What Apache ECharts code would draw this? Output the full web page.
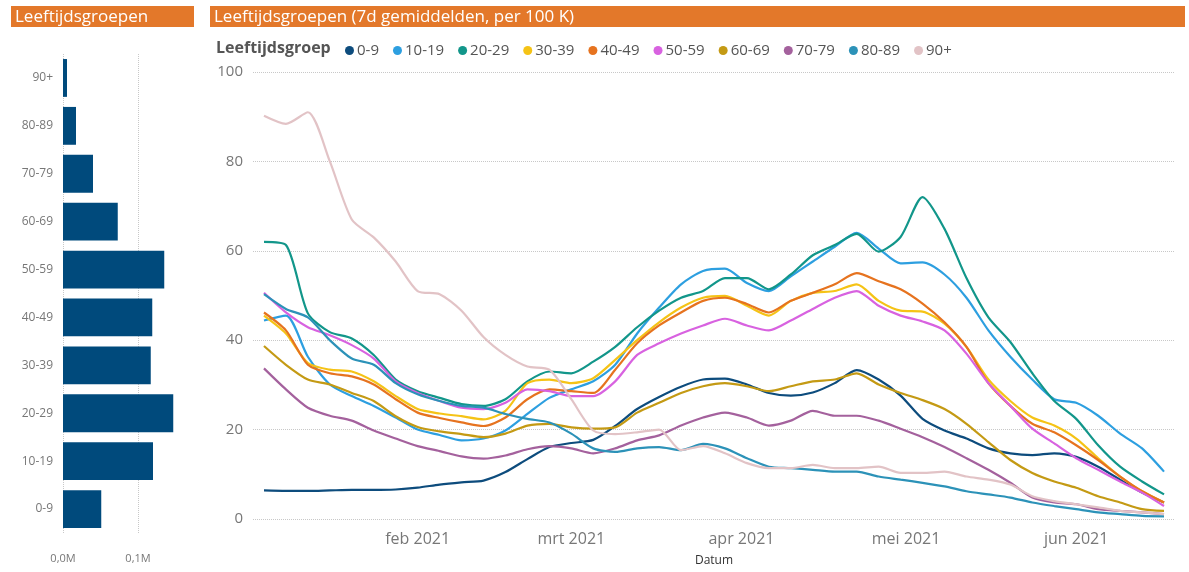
<!DOCTYPE html>
<html>
<head>
<meta charset="utf-8">
<script src="https://cdn.jsdelivr.net/npm/echarts@6/dist/echarts.min.js"></script>
<style>
html,body{margin:0;padding:0;background:#fff;}
#c{width:1189px;height:572px;}
</style>
</head>
<body>
<div id="c"></div>
<script>
// ---- data ----
var groups = ['0-9','10-19','20-29','30-39','40-49','50-59','60-69','70-79','80-89','90+'];
var population = [51000, 120000, 147000, 117000, 119000, 135000, 73000, 40000, 17300, 5300];
var barTicks = [0, 100000];

// sample dates: every 4 days from 2021-01-04 to 2021-06-17
var sampleDates = ['2021-01-04','2021-01-08','2021-01-12','2021-01-16','2021-01-20','2021-01-24','2021-01-28',
'2021-02-01','2021-02-05','2021-02-09','2021-02-13','2021-02-17','2021-02-21','2021-02-25',
'2021-03-01','2021-03-05','2021-03-09','2021-03-13','2021-03-17','2021-03-21','2021-03-25','2021-03-29',
'2021-04-02','2021-04-06','2021-04-10','2021-04-14','2021-04-18','2021-04-22','2021-04-26','2021-04-30',
'2021-05-04','2021-05-08','2021-05-12','2021-05-16','2021-05-20','2021-05-24','2021-05-28',
'2021-06-01','2021-06-05','2021-06-09','2021-06-13','2021-06-17'];

var v0_9   = [6.4,6.3,6.3,6.4,6.5,6.5,6.6,7.0,7.7,8.2,8.6,10.5,13.4,16.1,17.0,17.7,20.8,24.6,27.3,29.6,31.2,31.4,30.1,28.2,27.6,28.3,30.4,33.3,31.2,27.6,22.4,19.8,18.0,15.8,14.7,14.3,14.7,13.9,11.7,8.8,5.9,3.7];
var v10_19 = [44.4,45.5,36.3,30.1,27.5,25.3,22.7,20.0,18.8,17.6,18.0,19.8,23.5,27.1,29.0,30.8,34.5,41.5,47.3,52.5,55.5,56.0,52.8,51.0,54.3,57.6,60.9,64.0,60.5,57.2,57.4,54.7,49.5,42.2,36.3,31.2,26.8,26.0,23.1,19.1,15.8,10.6];
var v20_29 = [62.0,61.3,46.0,41.8,40.4,36.7,31.2,28.6,27.1,25.7,25.3,26.8,30.8,33.0,32.6,35.2,38.5,42.9,46.6,49.5,51.0,53.9,53.9,51.4,54.7,59.0,61.3,63.8,59.8,63.1,72.0,64.9,53.9,45.1,39.6,32.6,26.4,22.4,16.5,11.7,8.4,5.5];
var v30_39 = [45.5,41.5,34.9,33.4,33.0,30.8,27.5,24.6,23.6,23.0,22.3,24.2,30.4,31.2,30.4,31.5,35.6,40.0,44.0,47.3,49.5,49.9,47.7,45.5,48.8,50.6,51.0,52.5,48.8,46.6,46.4,43.7,38.5,31.2,26.4,22.7,20.9,18.0,13.6,9.5,6.2,3.7];
var v40_49 = [46.2,42.2,34.5,32.6,31.9,30.1,26.8,23.8,22.6,21.6,20.8,22.7,26.8,29.0,28.6,28.2,33.4,39.3,43.3,46.2,48.8,49.5,48.1,46.2,48.8,50.6,52.5,55.0,53.2,51.4,48.2,44.0,38.5,30.4,25.3,21.3,19.4,16.5,13.2,9.5,6.2,3.7];
var v50_59 = [50.6,46.2,42.9,41.1,38.9,35.9,30.8,28.2,26.4,24.9,24.6,26.0,29.0,28.6,27.5,27.5,30.8,36.7,39.3,41.5,43.3,44.8,43.3,42.2,44.4,47.0,49.5,51.0,47.7,45.5,44.2,42.2,37.0,30.4,25.3,20.2,16.9,13.6,11.0,8.4,5.9,2.9];
var v60_69 = [38.7,34.5,31.2,30.1,28.2,26.4,23.0,20.6,19.6,19.0,18.3,19.1,20.9,21.3,20.5,20.2,20.5,23.8,26.0,28.2,29.7,30.4,29.7,28.6,29.7,30.8,31.2,32.6,30.1,28.2,26.6,24.6,21.3,17.2,13.2,10.3,8.4,7.0,5.1,3.7,2.2,1.8];
var v70_79 = [33.7,29.0,24.9,23.1,22.0,19.8,18.0,16.3,15.2,14.0,13.5,14.2,15.6,16.3,15.8,14.7,15.8,17.6,18.7,20.9,22.7,23.8,22.7,20.9,22.0,24.2,23.1,23.1,22.0,20.2,18.3,16.1,13.6,11.0,8.1,4.8,3.7,3.3,2.2,1.8,1.5,1.1];
var v80_89 = [50.3,47.0,45.1,40.0,35.9,34.5,30.4,27.9,26.4,25.3,24.9,23.5,22.4,21.6,19.1,15.8,15.0,15.8,16.1,15.4,16.8,15.8,13.6,11.7,11.4,11.0,10.6,10.6,9.5,8.8,8.1,7.3,6.2,5.5,4.8,3.7,2.9,2.2,1.5,1.1,0.7,0.6];
var v90p   = [90.2,88.4,91.0,80.0,67.0,63.0,57.6,51.0,50.3,46.6,40.7,36.7,34.1,33.4,26.8,19.8,19.0,19.4,20.0,15.4,16.3,14.7,12.5,11.4,11.4,12.1,11.4,11.4,11.7,10.3,10.3,10.6,9.5,8.8,7.7,5.1,4.0,3.3,2.6,1.8,1.5,1.1];

var seriesValues = [v0_9, v10_19, v20_29, v30_39, v40_49, v50_59, v60_69, v70_79, v80_89, v90p];
var colors = ['#0D4C7D','#2D9FE0','#12968A','#F5C316','#E6731F','#D862E0','#C49A14','#A4619D','#2C92B8','#E2C3C6'];
var yTicks = [0, 20, 40, 60, 80, 100];
var monthNames = ['jan','feb','mrt','apr','mei','jun','jul','aug','sep','okt','nov','dec'];

// daily categories of the time axis (axis range 2021-01-02 .. 2021-06-19)
var days = [];
(function(){
  var d = new Date(Date.UTC(2021,0,2));
  var end = Date.UTC(2021,5,19);
  while (d.getTime() <= end) {
    days.push(d.toISOString().slice(0,10));
    d = new Date(d.getTime() + 86400000);
  }
})();

var font = "'Segoe UI','Open Sans','Noto Sans',sans-serif";

var lineSeries = groups.map(function(g, i){
  return {
    name: g, type: 'line', xAxisIndex: 1, yAxisIndex: 1,
    showSymbol: false, symbol: 'circle', smooth: 0.25,
    lineStyle: {width: 2.2, color: colors[i]},
    itemStyle: {color: colors[i]},
    data: sampleDates.map(function(d, k){ return [d, seriesValues[i][k]]; })
  };
});

var chart = echarts.init(document.getElementById('c'), null, {renderer: 'canvas'});
chart.setOption({
  animation: false,
  backgroundColor: '#fff',
  textStyle: {fontFamily: font},
  graphic: [
    {type: 'rect', left: 11, top: 6, shape: {width: 183, height: 21}, style: {fill: '#E3782A'}},
    {type: 'text', x: 15, y: 17, style: {text: 'Leeftijdsgroepen', fill: '#fff', font: "17px " + font, verticalAlign: 'middle'}},
    {type: 'rect', left: 210, top: 6, shape: {width: 975, height: 21}, style: {fill: '#E3782A'}},
    {type: 'text', x: 214, y: 17, style: {text: 'Leeftijdsgroepen (7d gemiddelden, per 100 K)', fill: '#fff', font: "17px " + font, verticalAlign: 'middle'}},
    {type: 'text', x: 216, y: 48, style: {text: 'Leeftijdsgroep', fill: '#555', font: "bold 16px " + font, verticalAlign: 'middle'}}
  ],
  legend: {
    left: 340, top: 38, icon: 'circle', itemWidth: 9, itemHeight: 9, itemGap: 14,
    textStyle: {color: '#555', fontSize: 15, fontFamily: font, padding: [0,0,0,-2]},
    data: groups
  },
  grid: [
    {left: 63, top: 54, width: 120, height: 479},
    {left: 253, top: 72, width: 922, height: 455}
  ],
  xAxis: [
    {gridIndex: 0, type: 'value', min: 0, max: 160000, interval: barTicks[1] - barTicks[0],
     axisLine: {show: false}, axisTick: {show: false},
     splitLine: {show: true, showMaxLine: false, lineStyle: {type: 'dotted', color: '#c8c8c8'}},
     axisLabel: {color: '#777', fontSize: 11, margin: 20, showMaxLabel: false,
       formatter: function(v){ return (v/1e6).toFixed(1).replace('.', ',') + 'M'; }}},
    {gridIndex: 1, type: 'category', data: days, boundaryGap: false,
     axisLine: {show: false}, axisTick: {show: false}, splitLine: {show: false},
     name: 'Datum', nameLocation: 'middle', nameGap: 36,
     nameTextStyle: {color: '#333', fontSize: 12},
     axisLabel: {color: '#777', fontSize: 16, margin: 12,
       interval: function(idx, val){ return val.slice(8) === '01'; },
       formatter: function(val){ var m = +val.slice(5,7) - 1; return monthNames[m] + ' ' + val.slice(0,4); }}}
  ],
  yAxis: [
    {gridIndex: 0, type: 'category', data: groups,
     axisLine: {show: false}, axisTick: {show: false},
     axisLabel: {color: '#777', fontSize: 12, margin: 10}},
    {gridIndex: 1, type: 'value', min: yTicks[0], max: yTicks[yTicks.length-1], interval: yTicks[1]-yTicks[0],
     axisLine: {show: false}, axisTick: {show: false},
     splitLine: {lineStyle: {type: 'dotted', color: '#c8c8c8'}},
     axisLabel: {color: '#777', fontSize: 15, margin: 10}}
  ],
  series: [
    {type: 'bar', xAxisIndex: 0, yAxisIndex: 0, data: population, barCategoryGap: '21%',
     itemStyle: {color: '#004A7C'}, legendHoverLink: false}
  ].concat(lineSeries)
});
</script>
</body>
</html>
